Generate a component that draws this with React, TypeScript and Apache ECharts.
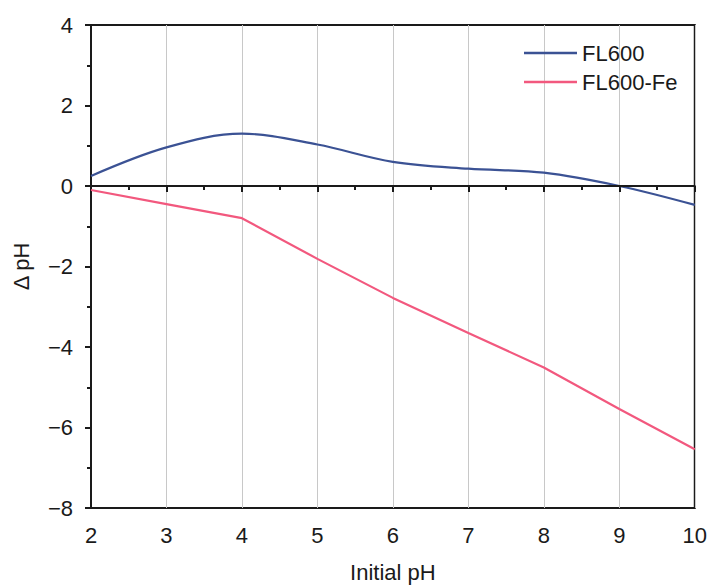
import React, { useEffect, useRef } from "react";
import * as echarts from "echarts";

const xValues = [2, 3, 4, 5, 6, 7, 8, 9, 10];
const fl600 = [0.25, 0.96, 1.3, 1.03, 0.6, 0.43, 0.33, 0.0, -0.47];
const fl600Fe = [-0.1, -0.45, -0.8, -1.81, -2.78, -3.65, -4.51, -5.54, -6.54];
const seriesNames = ["FL600", "FL600-Fe"];

export default function App() {
  const ref = useRef<HTMLDivElement>(null);
  useEffect(() => {
    const chart = echarts.init(ref.current!, null, { renderer: "svg" });
    const font = "Liberation Sans, Arial, sans-serif";
    const axisCommon = {
      axisLine: { show: true, lineStyle: { color: "#1a1a1a", width: 2 } },
      axisTick: { show: true, inside: false, length: 6, lineStyle: { color: "#1a1a1a", width: 2 } },
      minorTick: { show: true, splitNumber: 2, length: 4, lineStyle: { color: "#1a1a1a", width: 2 } },
      axisLabel: { color: "#1a1a1a", fontSize: 22, fontFamily: font },
    };
    chart.setOption({
      animation: false,
      backgroundColor: "#fff",
      grid: { left: 91, right: 13, top: 25, bottom: 75, show: true, borderColor: "#1a1a1a", borderWidth: 2 },
      legend: {
        orient: "vertical",
        left: 524,
        top: 42,
        padding: 0,
        icon: "rect",
        itemWidth: 53,
        itemHeight: 2.5,
        itemGap: 7,
        textStyle: { fontSize: 22, color: "#1a1a1a", fontFamily: font },
        data: seriesNames,
      },
      xAxis: {
        type: "value",
        min: 2,
        max: 10,
        interval: 1,
        name: "Initial pH",
        nameLocation: "middle",
        nameGap: 53,
        nameTextStyle: { fontSize: 22, color: "#1a1a1a", fontFamily: font },
        splitLine: { show: true, lineStyle: { color: "#c8c8c8", width: 1 } },
        ...axisCommon,
        axisLabel: { ...axisCommon.axisLabel, margin: 16 },
      },
      yAxis: {
        type: "value",
        min: -8,
        max: 4,
        interval: 2,
        name: "Δ pH",
        nameLocation: "middle",
        nameGap: 59,
        nameTextStyle: { fontSize: 22, color: "#1a1a1a", fontFamily: font },
        splitLine: { show: false },
        ...axisCommon,
        axisLabel: {
          ...axisCommon.axisLabel,
          margin: 18,
          formatter: (v: number) => (v < 0 ? "\u2212" + Math.abs(v) : String(v)),
        },
      },
      series: [
        {
          name: seriesNames[0],
          type: "line",
          smooth: 0.35,
          symbol: "none",
          lineStyle: { color: "#3B5294", width: 2.2 },
          itemStyle: { color: "#3B5294" },
          data: xValues.map((x, i) => [x, fl600[i]]),
          markLine: {
            silent: true,
            symbol: "none",
            label: { show: false },
            lineStyle: { color: "#1a1a1a", width: 2, type: "solid" },
            data: [{ yAxis: 0 }],
          },
          z: 3,
        },
        {
          name: seriesNames[1],
          type: "line",
          symbol: "none",
          lineStyle: { color: "#F2587E", width: 2.2 },
          itemStyle: { color: "#F2587E" },
          data: xValues.map((x, i) => [x, fl600Fe[i]]),
          z: 3,
        },
      ],
    });
    return () => chart.dispose();
  }, []);
  return <div ref={ref} style={{ width: 710, height: 588, position: "absolute", left: 0, top: 0 }} />;
}
